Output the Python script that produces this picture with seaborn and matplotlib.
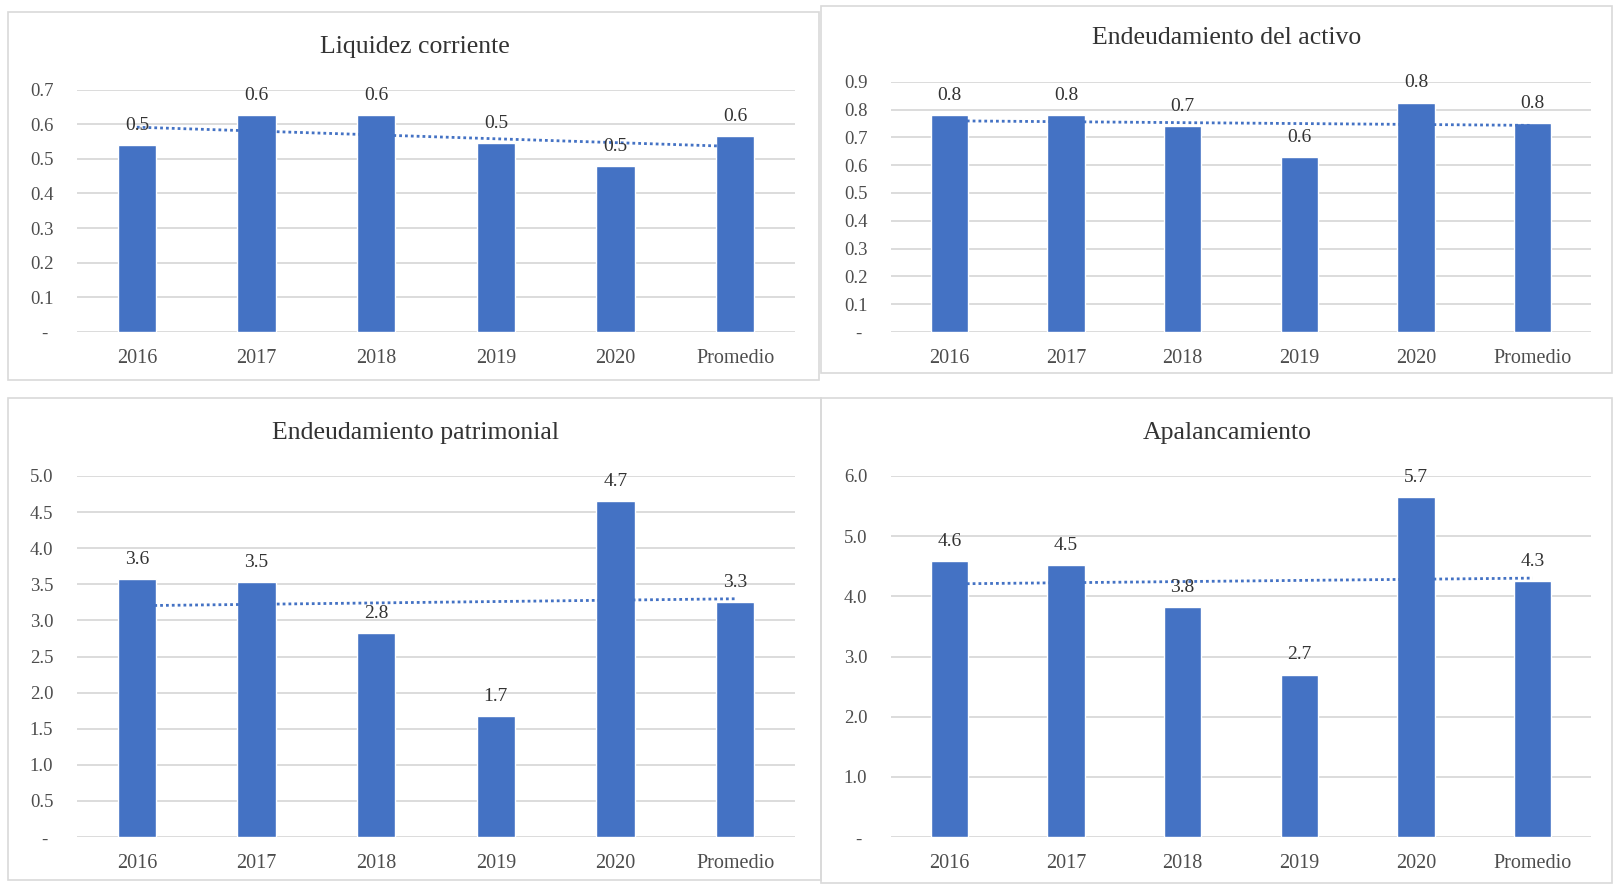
"""Cuatro indicadores financieros 2016-2020 con promedio y línea de tendencia."""

import matplotlib
matplotlib.use("Agg")
import matplotlib.pyplot as plt
from matplotlib.patches import Rectangle
import numpy as np
import seaborn as sns

CATEGORIAS = ["2016", "2017", "2018", "2019", "2020", "Promedio"]

LIQUIDEZ = [0.54, 0.625, 0.625, 0.545, 0.48, 0.565]
ENDEUD_ACTIVO = [0.78, 0.78, 0.74, 0.63, 0.825, 0.752]
ENDEUD_PATRIMONIAL = [3.57, 3.53, 2.82, 1.68, 4.65, 3.26]
APALANCAMIENTO = [4.58, 4.52, 3.82, 2.70, 5.65, 4.26]

TICKS_LIQUIDEZ = [0.0, 0.1, 0.2, 0.3, 0.4, 0.5, 0.6, 0.7]
TICKS_ACTIVO = [0.0, 0.1, 0.2, 0.3, 0.4, 0.5, 0.6, 0.7, 0.8, 0.9]
TICKS_PATRIMONIAL = [0.0, 0.5, 1.0, 1.5, 2.0, 2.5, 3.0, 3.5, 4.0, 4.5, 5.0]
TICKS_APALANCAMIENTO = [0.0, 1.0, 2.0, 3.0, 4.0, 5.0, 6.0]

BAR_COLOR = "#4472C4"
GRID_COLOR = "#D9D9D9"
TEXT_COLOR = "#333333"
TICK_COLOR = "#4D4D4D"

W, H = 1615, 884


def fx(px):
    return px / W


def fy(py):
    return 1 - py / H


def panel(fig, rect, valores, ticks, titulo, title_xy):
    ax = fig.add_axes(rect)
    sns.barplot(x=CATEGORIAS, y=valores, color=BAR_COLOR, saturation=1,
                width=0.32, ax=ax)
    # línea de tendencia lineal (como en Excel)
    xs = np.arange(len(valores))
    a, b = np.polyfit(xs, valores, 1)
    ax.plot(xs, a * xs + b, ls=(0, (1, 1.1)), color=BAR_COLOR, lw=2)
    ax.bar_label(ax.containers[0], labels=[f"{v:.1f}" for v in valores],
                 padding=8, fontsize=14, color=TEXT_COLOR)
    ax.set_xlim(-0.5, len(CATEGORIAS) - 0.5)
    ax.set_ylim(0, ticks[-1])
    ax.set_yticks(ticks)
    ax.set_yticklabels(["- "] + [f"{t:.1f}" for t in ticks[1:]])
    ax.yaxis.grid(True, color=GRID_COLOR, lw=1.3)
    ax.set_axisbelow(True)
    for s in ax.spines.values():
        s.set_visible(False)
    ax.tick_params(axis="both", length=0, colors=TICK_COLOR)
    ax.tick_params(axis="x", pad=12, labelsize=14.5)
    ax.tick_params(axis="y", pad=17, labelsize=13.5)
    ax.set_xlabel("")
    ax.set_ylabel("")
    fig.text(title_xy[0], title_xy[1], titulo, ha="center", va="center",
             fontsize=18.5, color=TEXT_COLOR)
    return ax


def main():
    sns.set_theme(style="white")
    plt.rcParams["font.family"] = ["Liberation Serif", "DejaVu Serif"]

    fig = plt.figure(figsize=(W / 100, H / 100), dpi=100)

    # marcos de cada gráfico
    for x0, y0, x1, y1 in [(8, 12, 819, 380), (821, 6, 1612, 373),
                           (8, 398, 821, 880), (821, 398, 1612, 883)]:
        fig.add_artist(Rectangle((fx(x0), fy(y1)), fx(x1 - x0), (y1 - y0) / H,
                                 transform=fig.transFigure, fill=False,
                                 edgecolor=GRID_COLOR, lw=1.2))

    panel(fig, [fx(77), fy(332), fx(718), (332 - 89.5) / H],
          LIQUIDEZ, TICKS_LIQUIDEZ, "Liquidez corriente", (fx(415), fy(46.7)))
    panel(fig, [fx(891), fy(332), fx(700), (332 - 81.7) / H],
          ENDEUD_ACTIVO, TICKS_ACTIVO, "Endeudamiento del activo",
          (fx(1227), fy(38.3)))
    panel(fig, [fx(77), fy(837), fx(718), (837 - 476) / H],
          ENDEUD_PATRIMONIAL, TICKS_PATRIMONIAL, "Endeudamiento patrimonial",
          (fx(415), fy(433)))
    panel(fig, [fx(891), fy(837), fx(700), (837 - 476) / H],
          APALANCAMIENTO, TICKS_APALANCAMIENTO, "Apalancamiento",
          (fx(1227), fy(433)))

    fig.savefig("out.png", dpi=100)
    plt.close(fig)


if __name__ == "__main__":
    main()
